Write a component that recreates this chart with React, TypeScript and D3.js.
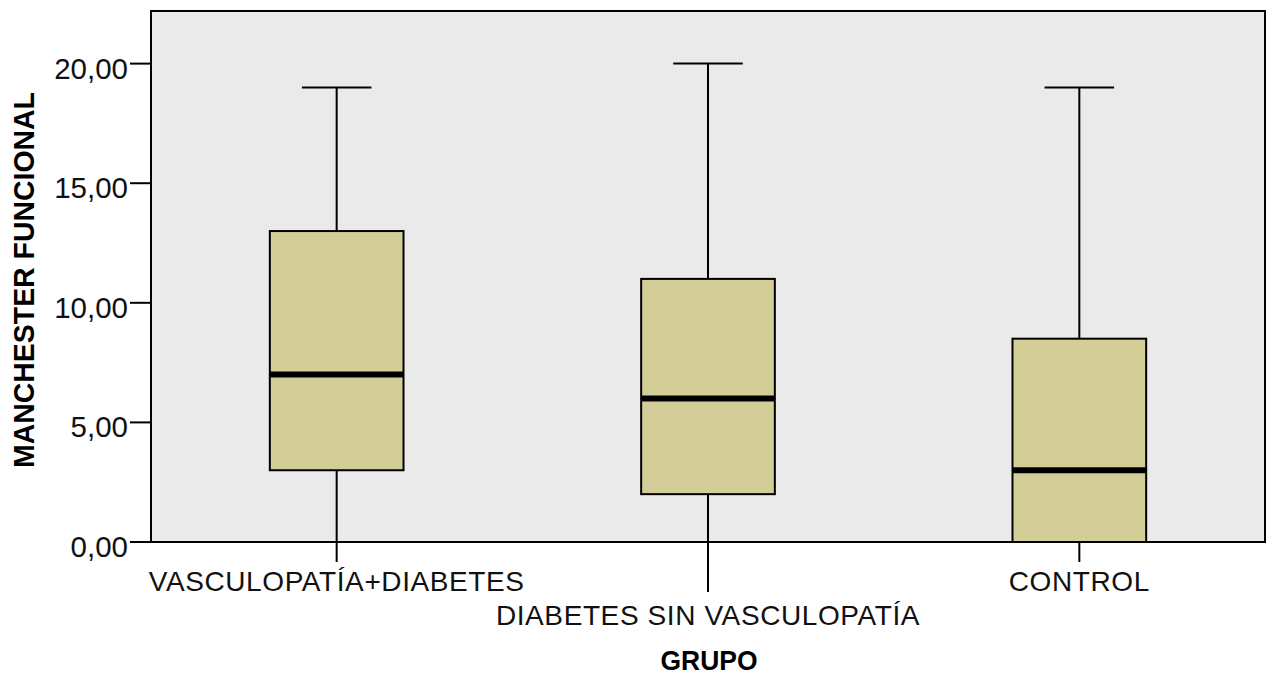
import React from "react";
import * as d3 from "d3";

const categories = ["VASCULOPATÍA+DIABETES", "DIABETES SIN VASCULOPATÍA", "CONTROL"];
const whiskerLow = [0, 0, 0];
const q1 = [3, 2, 0];
const medians = [7, 6, 3];
const q3 = [13, 11, 8.5];
const whiskerHigh = [19, 20, 19];
const yTicks = [0, 5, 10, 15, 20];

const W = 1266, H = 677;
const left = 151, right = 1265, top = 11, bottom = 542;

export default function App() {
  const x = d3.scaleBand<string>().domain(categories).range([left, right]).padding(0);
  const y = d3.scaleLinear().domain([0, 22.2]).range([bottom, top]);
  const bw = x.bandwidth() * 0.36;
  const capW = bw * 0.52;
  const fmt = (v: number) => v.toFixed(2).replace(".", ",");
  const font = "'Liberation Sans', Arial, sans-serif";
  return (
    <svg width={W} height={H} style={{ position: "absolute", left: 0, top: 0 }}>
      <rect x={0} y={0} width={W} height={H} fill="#ffffff" />
      <rect x={left} y={top} width={right - left} height={bottom - top} fill="#EAEAEA" stroke="none" />
      {categories.map((c, i) => {
        const cx = x(c)! + x.bandwidth() / 2;
        return (
          <g key={c}>
            <line x1={cx} x2={cx} y1={y(whiskerHigh[i])} y2={y(q3[i])} stroke="#000" strokeWidth={2} />
            <line x1={cx} x2={cx} y1={y(q1[i])} y2={y(whiskerLow[i])} stroke="#000" strokeWidth={2} />
            <line x1={cx - capW / 2} x2={cx + capW / 2} y1={y(whiskerHigh[i])} y2={y(whiskerHigh[i])} stroke="#000" strokeWidth={2} />
            <line x1={cx - capW / 2} x2={cx + capW / 2} y1={y(whiskerLow[i])} y2={y(whiskerLow[i])} stroke="#000" strokeWidth={2} />
            <rect x={cx - bw / 2} y={y(q3[i])} width={bw} height={y(q1[i]) - y(q3[i])} fill="#D3CE98" stroke="#000" strokeWidth={2} />
            <line x1={cx - bw / 2} x2={cx + bw / 2} y1={y(medians[i])} y2={y(medians[i])} stroke="#000" strokeWidth={6} />
          </g>
        );
      })}
      <rect x={left} y={top} width={right - left} height={bottom - top} fill="none" stroke="#000" strokeWidth={2} />
      {yTicks.map((t) => (
        <g key={t}>
          <line x1={left - 21} x2={left} y1={y(t)} y2={y(t)} stroke="#000" strokeWidth={2} />
          <text x={left - 23} y={y(t) + 15} textAnchor="end" fontFamily={font} fontSize={29.5} fill="#111">{fmt(t)}</text>
        </g>
      ))}
      {categories.map((c, i) => {
        const cx = x(c)! + x.bandwidth() / 2;
        const stagger = i % 2 === 1;
        return (
          <g key={c}>
            <line x1={cx} x2={cx} y1={bottom} y2={stagger ? 592 : 562} stroke="#000" strokeWidth={2} />
            <text x={cx} y={stagger ? 625 : 591} textAnchor="middle" fontFamily={font} fontSize={28} fill="#111" letterSpacing={0.6}>{c}</text>
          </g>
        );
      })}
      <text x={709} y={670} textAnchor="middle" fontFamily={font} fontWeight="bold" fontSize={28} fill="#000" textLength={97} lengthAdjust="spacingAndGlyphs">GRUPO</text>
      <text transform={`translate(34,${(92 + 468) / 2}) rotate(-90)`} textAnchor="middle" fontFamily={font} fontWeight="bold" fontSize={30} fill="#000" textLength={376} lengthAdjust="spacingAndGlyphs">MANCHESTER FUNCIONAL</text>
    </svg>
  );
}
